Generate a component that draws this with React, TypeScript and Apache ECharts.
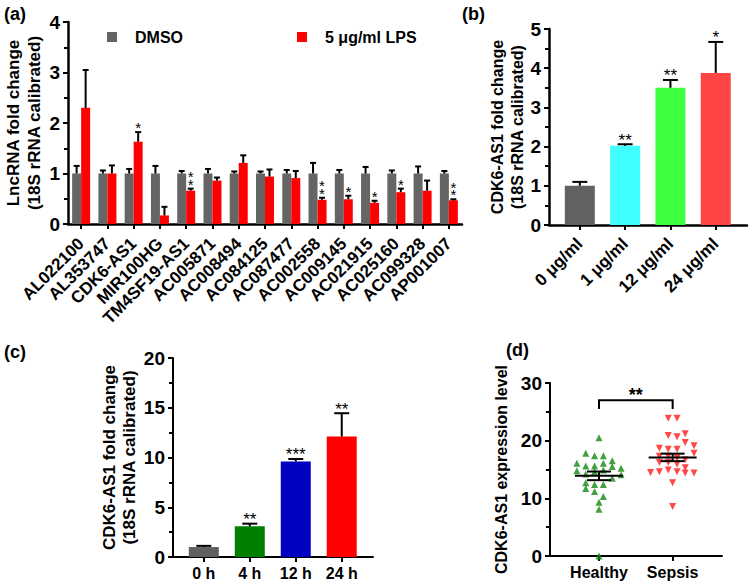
import React, { useEffect, useRef } from "react";
import * as echarts from "echarts";

const FONT = '"Liberation Sans", Arial, Helvetica, sans-serif';

// ---------- Panel (a)
const aCategories = ["AL022100", "AL353747", "CDK6-AS1", "MIR100HG", "TM4SF19-AS1", "AC005871", "AC008494", "AC084125", "AC087477", "AC002558", "AC009145", "AC021915", "AC025160", "AC099328", "AP001007"];
const aDmsoValues = [1, 1, 1, 1, 1, 1, 1, 1, 1, 1, 1, 1, 1, 1, 1];
const aDmsoErrTop = [1.15, 1.06, 1.09, 1.15, 1.05, 1.09, 1.04, 1.04, 1.07, 1.21, 1.07, 1.13, 1.06, 1.14, 1.05];
const aLpsValues = [2.3, 1.0, 1.63, 0.17, 0.66, 0.86, 1.21, 0.94, 0.91, 0.48, 0.49, 0.42, 0.63, 0.66, 0.47];
const aLpsErrTop = [3.05, 1.16, 1.82, 0.34, 0.7, 0.92, 1.36, 1.08, 1.05, 0.52, 0.56, 0.46, 0.7, 0.86, 0.49];
const aLpsStars = ["", "", "*", "", "**", "", "", "", "", "**", "*", "*", "*", "", "**"];
const aSeriesNames = ["DMSO", "5 μg/ml LPS"];

// ---------- Panel (b)
const bCategories = ["0 μg/ml", "1 μg/ml", "12 μg/ml", "24 μg/ml"];
const bValues = [1.0, 2.02, 3.5, 3.88];
const bErrTop = [1.1, 2.06, 3.7, 4.67];
const bStars = ["", "**", "**", "*"];
const bColors = ["#626262", "#40ffff", "#40ff40", "#ff4444"];

// ---------- Panel (c)
const cCategories = ["0 h", "4 h", "12 h", "24 h"];
const cValues = [1.0, 3.08, 9.6, 12.1];
const cErrTop = [1.12, 3.35, 9.85, 14.45];
const cStars = ["", "**", "***", "**"];
const cColors = ["#606060", "#008000", "#0000c0", "#ff0000"];

// ---------- Panel (d)
const dGroups = ["Healthy", "Sepsis"];
const healthyValues = [20.5, 17.8, 17.4, 17.4, 16.1, 15.6, 15.6, 16.1, 16.5, 15.5, 15.2, 14.8, 14.2, 14.6, 14.9, 14.1, 13.5, 12.7, 12.4, 12.4, 11.7, 11.2, 10.3, 9.3, 8.1, 0];
const healthyJitter = [0, -0.18, -0.06, 0.06, -0.3, -0.18, -0.06, 0.06, 0.18, 0.18, 0.3, -0.3, -0.18, -0.06, 0.06, 0.3, 0.18, -0.18, -0.06, 0.06, -0.18, -0.06, 0.06, 0, 0, 0];
const sepsisValues = [23.9, 23.9, 20.9, 20.7, 21.2, 19.7, 19.1, 18.7, 18.5, 18.5, 17.8, 17.3, 17.3, 17.0, 16.7, 16.2, 16.2, 15.9, 15.3, 14.5, 14.6, 14.9, 14.6, 14.4, 14.4, 12.7, 8.6];
const sepsisJitter = [-0.06, 0.06, -0.06, 0.06, 0.17, 0.17, 0.29, -0.18, -0.06, 0.06, 0.29, -0.18, -0.06, 0.06, 0.17, -0.18, -0.06, 0.06, 0.17, -0.3, -0.18, -0.06, 0.06, 0.17, 0.29, 0, 0];
const dMeans = [13.9, 17.1];
const dSems = [0.75, 0.65];
const dBracket = [0, 1, 25.5, 27];
const dBracketLabel = "**";

const BLACK = "#000";

function yAxisCfg(gridIndex: number, max: number, interval: number, name: string, nameGap: number, nameSize: number, lineHeight: number, lw: number) {
  return {
    gridIndex,
    type: "value",
    min: 0,
    max,
    interval,
    name,
    nameLocation: "middle",
    nameRotate: 90,
    nameGap,
    nameMoveOverlap: false,
    nameTextStyle: { fontFamily: FONT, fontSize: nameSize, fontWeight: "bold", color: BLACK, lineHeight },
    axisLine: { show: true, onZero: false, lineStyle: { color: BLACK, width: lw } },
    axisTick: { show: true, length: 5, lineStyle: { color: BLACK, width: 2 } },
    minorTick: { show: true, splitNumber: 2, length: 4, lineStyle: { color: BLACK, width: 2 } },
    splitLine: { show: false },
    minorSplitLine: { show: false },
    axisLabel: { fontFamily: FONT, fontSize: 19, fontWeight: "bold", color: BLACK, margin: 8 },
  };
}

function valueXAxis(gridIndex: number, min: number, max: number, cats: string[], rotate: number, margin: number, lw: number, fontSize: number) {
  const ticks = cats.map((_, i) => i);
  return {
    gridIndex,
    type: "value",
    min,
    max,
    axisLine: { show: true, onZero: false, lineStyle: { color: BLACK, width: lw } },
    axisTick: { show: true, customValues: ticks, length: 5, lineStyle: { color: BLACK, width: 2 } },
    splitLine: { show: false },
    axisLabel: {
      customValues: ticks,
      formatter: (v: number) => cats[Math.round(v)] ?? "",
      rotate,
      margin,
      fontFamily: FONT,
      fontSize,
      fontWeight: "bold",
      color: BLACK,
    },
  };
}

function starText(text: string, x: number, y: number, size: number, bold = false, lineHeight?: number) {
  return {
    type: "text",
    x,
    y,
    style: { text, fontFamily: FONT, fontSize: size, fontWeight: bold ? "bold" : "normal", fill: BLACK, align: "center", verticalAlign: "middle", lineHeight: lineHeight ?? size },
  };
}

function errorBars(axisIndex: number, xs: number[], values: number[], tops: number[], stars: string[] | null, offset: number, capHalf: number, stacked: boolean) {
  return {
    type: "custom",
    xAxisIndex: axisIndex,
    yAxisIndex: axisIndex,
    z: 5,
    silent: true,
    data: values.map((v, i) => [xs[i], v, tops[i]]),
    renderItem: (params: any, api: any) => {
      const i = params.dataIndex;
      const b = api.coord([api.value(0), api.value(1)]);
      const t = api.coord([api.value(0), api.value(2)]);
      const cx = b[0] + offset;
      const ls = { stroke: BLACK, lineWidth: 2 };
      const children: any[] = [
        { type: "line", shape: { x1: cx, y1: b[1], x2: cx, y2: t[1] }, style: ls },
        { type: "line", shape: { x1: cx - capHalf, y1: t[1], x2: cx + capHalf, y2: t[1] }, style: ls },
      ];
      const s = stars ? stars[i] : "";
      if (s) {
        if (stacked) {
          const n = s.length;
          const txt = s.split("").join("\n");
          const centre = t[1] - 8.5 - (7.5 * (n - 1)) / 2;
          children.push(starText(txt, cx, centre + 4, 15, false, 7.5));
        } else {
          children.push(starText(s, cx, t[1] - 8 + 4, 17));
        }
      }
      return { type: "group", children };
    },
  };
}

function buildOption() {
  const idxA = aCategories.map((_, i) => i);
  const idx4 = [0, 1, 2, 3];
  return {
    animation: false,
    backgroundColor: "#fff",
    textStyle: { fontFamily: FONT },
    legend: {
      data: aSeriesNames,
      left: 102,
      top: 24,
      icon: "rect",
      itemWidth: 10,
      itemHeight: 10,
      itemGap: 114,
      formatter: (name: string) => "{g|}" + name,
      textStyle: { fontFamily: FONT, fontSize: 16, fontWeight: "bold", color: BLACK, rich: { g: { width: 13 } } },
    },
    grid: [
      { left: 68, top: 22, width: 394, height: 202, containLabel: false, outerBoundsMode: "none" },
      { left: 549, top: 29, width: 198, height: 196, containLabel: false, outerBoundsMode: "none" },
      { left: 173, top: 358, width: 200, height: 199, containLabel: false, outerBoundsMode: "none" },
      { left: 550, top: 383, width: 172, height: 173, containLabel: false, outerBoundsMode: "none" },
    ],
    xAxis: [
      {
        gridIndex: 0,
        type: "category",
        data: aCategories,
        boundaryGap: true,
        axisLine: { show: true, onZero: false, lineStyle: { color: BLACK, width: 2.5 } },
        axisTick: { show: true, alignWithLabel: true, length: 5, lineStyle: { color: BLACK, width: 2 } },
        axisLabel: { interval: 0, rotate: 45, margin: 17, fontFamily: FONT, fontSize: 17, fontWeight: "bold", color: BLACK },
      },
      valueXAxis(1, -0.68, 3.69, bCategories, 45, 16, 2.5, 17),
      valueXAxis(2, -0.67, 3.68, cCategories, 0, 8, 2, 16),
      valueXAxis(3, -0.665, 1.67, dGroups, 0, 8, 2, 16),
    ],
    yAxis: [
      yAxisCfg(0, 4, 1, "LncRNA fold change\n(18S rRNA calibrated)", 23, 17, 21, 2.5),
      yAxisCfg(1, 5, 1, "CDK6-AS1 fold change\n(18S rRNA calibrated)", 22, 16, 20, 2.5),
      yAxisCfg(2, 20, 5, "CDK6-AS1 fold change\n(18S rRNA calibrated)", 34, 17, 20, 2),
      yAxisCfg(3, 30, 10, "CDK6-AS1 expression level", 39, 16, 20, 2),
    ],
    graphic: [
      { type: "text", left: 4, top: 5, style: { text: "(a)", fontFamily: FONT, fontSize: 18, fontWeight: "bold", fill: BLACK } },
      { type: "text", left: 462, top: 5, style: { text: "(b)", fontFamily: FONT, fontSize: 18, fontWeight: "bold", fill: BLACK } },
      { type: "text", left: 4, top: 343, style: { text: "(c)", fontFamily: FONT, fontSize: 18, fontWeight: "bold", fill: BLACK } },
      { type: "text", left: 506, top: 341, style: { text: "(d)", fontFamily: FONT, fontSize: 18, fontWeight: "bold", fill: BLACK } },
    ],
    series: [
      // panel (a)
      { name: aSeriesNames[0], type: "bar", xAxisIndex: 0, yAxisIndex: 0, data: aDmsoValues, barWidth: 9, barGap: "0%", itemStyle: { color: "#656565" } },
      { name: aSeriesNames[1], type: "bar", xAxisIndex: 0, yAxisIndex: 0, data: aLpsValues, barWidth: 9, barGap: "0%", itemStyle: { color: "#ff0000" } },
      errorBars(0, idxA, aDmsoValues, aDmsoErrTop, null, -4.5, 3, true),
      errorBars(0, idxA, aLpsValues, aLpsErrTop, aLpsStars, 4.5, 3, true),
      // panel (b)
      {
        type: "bar", xAxisIndex: 1, yAxisIndex: 1, barWidth: 30,
        data: bValues.map((v, i) => ({ value: [i, v], itemStyle: { color: bColors[i] } })),
      },
      errorBars(1, idx4, bValues, bErrTop, bStars, 0, 7.5, false),
      // panel (c)
      {
        type: "bar", xAxisIndex: 2, yAxisIndex: 2, barWidth: 30,
        data: cValues.map((v, i) => ({ value: [i, v], itemStyle: { color: cColors[i] } })),
      },
      errorBars(2, idx4, cValues, cErrTop, cStars, 0, 7.5, false),
      // panel (d)
      {
        type: "scatter", xAxisIndex: 3, yAxisIndex: 3, symbol: "triangle", symbolSize: 7, clip: false,
        itemStyle: { color: "#118a11" },
        data: healthyValues.map((v, i) => [0 + healthyJitter[i], v]),
      },
      {
        type: "scatter", xAxisIndex: 3, yAxisIndex: 3, symbol: "triangle", symbolRotate: 180, symbolSize: 7, clip: false,
        itemStyle: { color: "#ff1a1a" },
        data: sepsisValues.map((v, i) => [1 + sepsisJitter[i], v]),
      },
      {
        type: "custom", xAxisIndex: 3, yAxisIndex: 3, z: 6, silent: true,
        data: dMeans.map((m, i) => [i, m, dSems[i]]),
        renderItem: (_p: any, api: any) => {
          const x = api.value(0), m = api.value(1), s = api.value(2);
          const pm = api.coord([x, m]);
          const pu = api.coord([x, m + s]);
          const pl = api.coord([x, m - s]);
          const ls = { stroke: BLACK, lineWidth: 2 };
          return {
            type: "group",
            children: [
              { type: "line", shape: { x1: pm[0] - 24, y1: pm[1], x2: pm[0] + 24, y2: pm[1] }, style: ls },
              { type: "line", shape: { x1: pm[0] - 12, y1: pu[1], x2: pm[0] + 12, y2: pu[1] }, style: ls },
              { type: "line", shape: { x1: pm[0] - 12, y1: pl[1], x2: pm[0] + 12, y2: pl[1] }, style: ls },
              { type: "line", shape: { x1: pm[0], y1: pu[1], x2: pm[0], y2: pl[1] }, style: ls },
            ],
          };
        },
      },
      {
        type: "custom", xAxisIndex: 3, yAxisIndex: 3, z: 6, silent: true,
        data: [dBracket],
        renderItem: (_p: any, api: any) => {
          const x0 = api.value(0), x1 = api.value(1), lo = api.value(2), hi = api.value(3);
          const a = api.coord([x0, lo]);
          const b = api.coord([x0, hi]);
          const c = api.coord([x1, hi]);
          const d = api.coord([x1, lo]);
          return {
            type: "group",
            children: [
              { type: "polyline", shape: { points: [a, b, c, d] }, style: { stroke: BLACK, lineWidth: 2, fill: "none" } },
              starText(dBracketLabel, (b[0] + c[0]) / 2, b[1] - 9 + 4, 18, true),
            ],
          };
        },
      },
    ],
  };
}

export default function App() {
  const ref = useRef<HTMLDivElement>(null);
  useEffect(() => {
    if (!ref.current) return;
    const chart = echarts.init(ref.current, null, { renderer: "svg", width: 750, height: 585 });
    chart.setOption(buildOption() as any);
    return () => chart.dispose();
  }, []);
  return <div ref={ref} style={{ position: "absolute", left: 0, top: 0, width: 750, height: 585, background: "#fff" }} />;
}
